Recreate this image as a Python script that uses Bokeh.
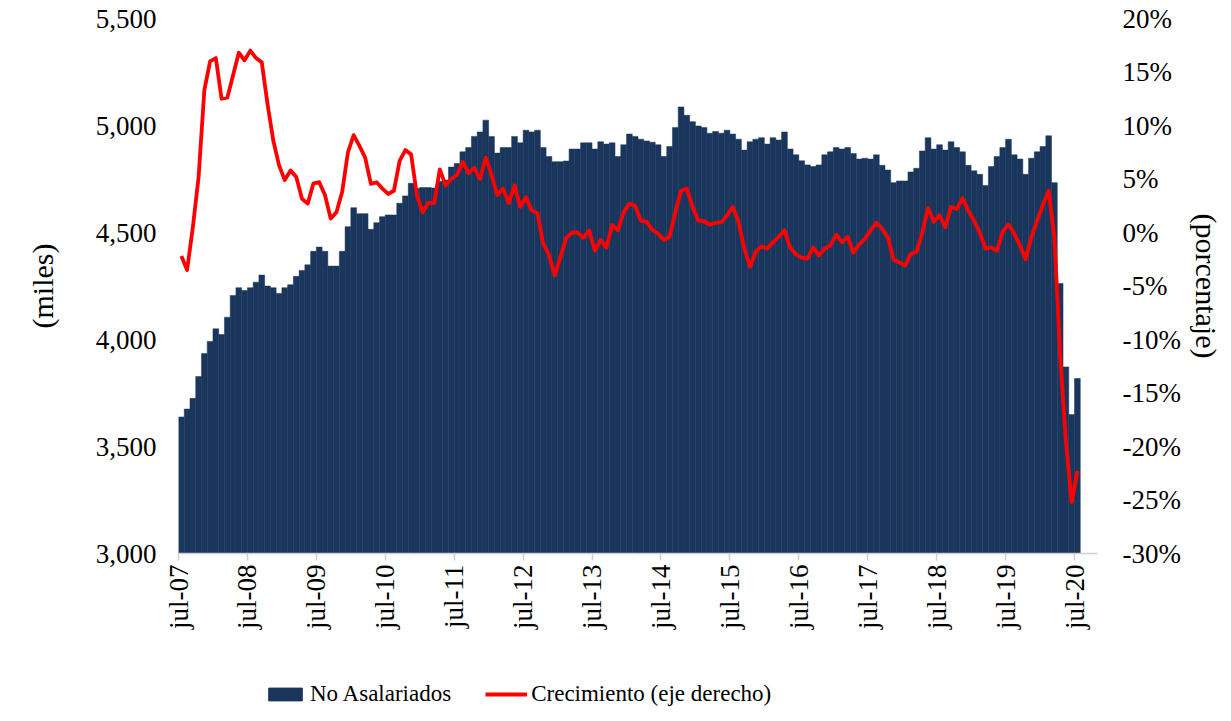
import math
from bokeh.plotting import figure
from bokeh.layouts import column
from bokeh.models import (Range1d, LinearAxis, FixedTicker, NumeralTickFormatter,
                          PrintfTickFormatter, Legend, LegendItem, ColumnDataSource)
from bokeh.embed import file_html
from bokeh.resources import INLINE

# ---------------- data (monthly, jul-07 .. jul-20) ----------------
tick_labels = ["jul-07", "jul-08", "jul-09", "jul-10", "jul-11", "jul-12", "jul-13",
               "jul-14", "jul-15", "jul-16", "jul-17", "jul-18", "jul-19", "jul-20"]

# No Asalariados (miles)
no_asalariados = [
    3638, 3675, 3725, 3827, 3935, 3991, 4050, 4023, 4104, 4206, 4242, 4229,
    4242, 4268, 4301, 4250, 4242, 4215, 4242, 4256, 4295, 4323, 4349, 4412,
    4432, 4412, 4343, 4343, 4412, 4527, 4616, 4588, 4588, 4515, 4546, 4574,
    4582, 4582, 4637, 4671, 4730, 4707, 4710, 4710, 4708, 4740, 4745, 4806,
    4822, 4877, 4897, 4949, 4970, 5025, 4949, 4871, 4897, 4897, 4949, 4919,
    4978, 4970, 4978, 4897, 4855, 4831, 4831, 4834, 4890, 4890, 4919, 4919,
    4890, 4924, 4913, 4919, 4855, 4910, 4960, 4949, 4936, 4928, 4922, 4910,
    4855, 4902, 4991, 5087, 5048, 5018, 4998, 4991, 4964, 4972, 4964, 4978,
    4960, 4936, 4885, 4924, 4936, 4943, 4913, 4943, 4932, 4970, 4890, 4863,
    4835, 4816, 4808, 4816, 4863, 4877, 4897, 4890, 4897, 4869, 4843, 4847,
    4843, 4863, 4814, 4792, 4733, 4741, 4741, 4783, 4800, 4881, 4943, 4890,
    4910, 4885, 4924, 4897, 4877, 4814, 4788, 4772, 4720, 4808, 4855, 4897,
    4936, 4863, 4843, 4772, 4847, 4877, 4902, 4952, 4733, 4262, 3872, 3649,
    3818,
]

# Crecimiento (%), eje derecho
crecimiento = [
    -2.2, -3.5, 0.5, 5.2, 13.3, 16.0, 16.3, 12.5, 12.6, 14.7, 16.8, 16.1,
    17.0, 16.3, 15.9, 12.0, 8.6, 6.3, 4.9, 5.8, 5.2, 3.15, 2.7, 4.6,
    4.7, 3.5, 1.3, 1.9, 3.8, 7.5, 9.1, 8.1, 7.0, 4.55, 4.7, 4.1,
    3.6, 3.9, 6.7, 7.7, 7.3, 3.5, 1.9, 2.8, 2.75, 5.9, 4.4, 5.0,
    5.4, 6.6, 5.55, 6.05, 5.0, 7.0, 5.4, 3.5, 4.1, 2.75, 4.4, 2.4,
    3.3, 2.06, 1.8, -1.05, -2.1, -4.0, -2.3, -0.5, 0.0, 0.0, -0.5, 0.2,
    -1.7, -0.7, -1.4, 0.7, 0.2, 1.9, 2.7, 2.5, 1.1, 1.0, 0.25, -0.1,
    -0.7, -0.4, 1.9, 3.9, 4.1, 2.4, 1.1, 1.05, 0.75, 0.9, 0.95, 1.6,
    2.4, 1.0, -1.5, -3.2, -1.8, -1.3, -1.5, -0.9, -0.4, 0.2, -1.4, -2.05,
    -2.35, -2.45, -1.4, -2.15, -1.5, -1.2, -0.2, -0.9, -0.4, -1.9, -1.1, -0.6,
    0.2, 0.9, 0.35, -0.45, -2.55, -2.8, -3.1, -2.0, -1.8, 0.0, 2.3, 1.0,
    1.6, 0.5, 2.4, 2.2, 3.2, 2.05, 1.1, 0.0, -1.5, -1.4, -1.7, 0.1,
    0.75, -0.1, -1.2, -2.5, -0.4, 1.1, 2.6, 3.9, -0.5, -11.5, -19.5, -25.2,
    -22.3,
]

n = len(no_asalariados)
n_slots = n + 3  # category axis runs three empty months past jul-20
xs = [i + 0.5 for i in range(n)]
tick_pos = [12 * k for k in range(len(tick_labels))]

src = ColumnDataSource(dict(x=xs, bar=no_asalariados, pct=crecimiento))

FONT = "Liberation Serif"
NAVY = "#1b365d"
RED = "#ff0000"
W = 1225

p = figure(width=W, height=645, output_backend="svg", toolbar_location=None,
           x_range=Range1d(0, n_slots), y_range=Range1d(3000, 5500),
           min_border_left=178, min_border_right=W - 178 - 923, min_border_top=18,
           min_border_bottom=92)
p.extra_y_ranges = {"pct": Range1d(-30, 20)}

bars = p.vbar(x="x", top="bar", bottom=3000, width=1.0, source=src,
              fill_color=NAVY, line_color=NAVY, line_width=0.5)
line = p.line(x="x", y="pct", source=src, y_range_name="pct",
              line_color=RED, line_width=3.8, line_join="round")

p.grid.visible = False
p.outline_line_color = None
p.background_fill_color = "white"
p.border_fill_color = "white"

# x axis
xa = p.xaxis[0]
xa.ticker = FixedTicker(ticks=tick_pos)
xa.major_label_overrides = {t: lab for t, lab in zip(tick_pos, tick_labels)}
xa.major_label_orientation = math.pi / 2
xa.axis_line_color = "#d0d0d0"
xa.axis_line_width = 1.5
xa.major_tick_line_color = "#d0d0d0"
xa.major_tick_line_width = 1.5
xa.major_tick_out = 7
xa.major_tick_in = 0
xa.minor_tick_line_color = None
xa.major_label_standoff = 4
xa.major_label_text_font = FONT
xa.major_label_text_font_size = "27px"
xa.major_label_text_color = "black"

# left axis
ya = p.yaxis[0]
ya.ticker = FixedTicker(ticks=[3000, 3500, 4000, 4500, 5000, 5500])
ya.formatter = NumeralTickFormatter(format="0,0")
ya.axis_line_color = None
ya.major_tick_line_color = None
ya.minor_tick_line_color = None
ya.major_label_standoff = 16
ya.major_label_text_font = FONT
ya.major_label_text_font_size = "27px"
ya.major_label_text_color = "black"
ya.axis_label = "(miles)"
ya.axis_label_text_font = FONT
ya.axis_label_text_font_size = "30px"
ya.axis_label_text_font_style = "normal"
ya.axis_label_text_color = "black"
ya.axis_label_standoff = 34

# right axis
ra = LinearAxis(y_range_name="pct",
                ticker=FixedTicker(ticks=[-30, -25, -20, -15, -10, -5, 0, 5, 10, 15, 20]),
                formatter=PrintfTickFormatter(format="%d%%"))
ra.axis_line_color = None
ra.major_tick_line_color = None
ra.minor_tick_line_color = None
ra.major_label_standoff = 19
ra.major_label_text_font = FONT
ra.major_label_text_font_size = "27px"
ra.major_label_text_color = "black"
ra.axis_label = "(porcentaje)"
ra.axis_label_text_font = FONT
ra.axis_label_text_font_size = "30px"
ra.axis_label_text_font_style = "normal"
ra.axis_label_text_color = "black"
ra.axis_label_standoff = 6
p.add_layout(ra, "right")

# ---------------- legend strip under the chart ----------------
lg = figure(width=W, height=76, output_backend="svg", toolbar_location=None,
            x_range=Range1d(0, 1), y_range=Range1d(0, 1),
            x_axis_location=None, y_axis_location=None, min_border=0)
lg.grid.visible = False
lg.outline_line_color = None
# legend swatches only (kept outside the visible range)
lb = lg.vbar(x=[-5], top=[-5], bottom=-6, width=0.5, fill_color=NAVY, line_color=NAVY)
ll = lg.line(x=[-5, -4], y=[-5, -5], line_color=RED, line_width=3.8)

legend = Legend(items=[LegendItem(label="No Asalariados", renderers=[lb]),
                       LegendItem(label="Crecimiento (eje derecho)", renderers=[ll])],
                orientation="horizontal", location=(86, 14),
                label_text_font=FONT, label_text_font_size="23px", label_text_color="black",
                glyph_width=42, glyph_height=16, label_standoff=4, spacing=34,
                padding=8, margin=0, border_line_color=None, background_fill_alpha=0)
lg.add_layout(legend, "center")

layout = column(p, lg, spacing=0)
open("out.html", "w").write(file_html(layout, INLINE))
